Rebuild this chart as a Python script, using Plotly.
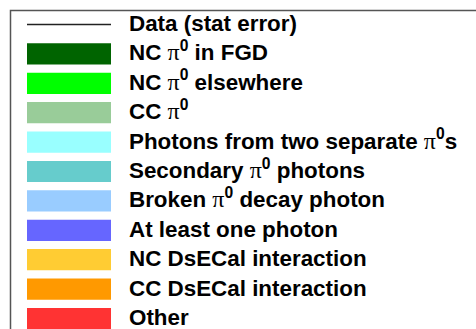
import plotly.graph_objects as go

# Legend entries for the pi0 selection stack
data_label = "Data (stat error)"
PI = ("<span style='font-family:Liberation Serif;font-weight:normal;font-size:24px'>π</span>"
      "<sup>0</sup>")
labels = [
    "NC " + PI + " in FGD",
    "NC " + PI + " elsewhere",
    "CC " + PI,
    "Photons from two separate " + PI + "s",
    "Secondary " + PI + " photons",
    "Broken " + PI + " decay photon",
    "At least one photon",
    "NC DsECal interaction",
    "CC DsECal interaction",
    "Other",
]
colors = [
    "#006400", "#00ff00", "#99cc99", "#99ffff", "#66cccc",
    "#99ccff", "#6666ff", "#ffcc33", "#ff9900", "#ff3333",
]

rows = list(range(1, len(labels) + 1))

fig = go.Figure()

# Data entry: thin black line sample
fig.add_trace(go.Scatter(
    x=[0, 1], y=[0, 0], mode="lines",
    line=dict(color="#222222", width=1.6), hoverinfo="skip",
))

# Filled swatches for each stacked component
fig.add_trace(go.Bar(
    y=rows, x=[1] * len(rows), base=0, orientation="h",
    width=0.72, marker=dict(color=colors, line=dict(width=0)),
    hoverinfo="skip",
))

# Entry labels
fig.add_trace(go.Scatter(
    x=[1.214] * (len(labels) + 1), y=[0.03] + [r + 0.03 for r in rows], mode="text",
    text=["<b>" + t + "</b>" for t in [data_label] + labels],
    textposition="middle right",
    textfont=dict(family="Liberation Sans", size=22.4, color="black"),
    hoverinfo="skip",
))

fig.update_layout(
    width=476, height=329,
    margin=dict(l=0, r=0, t=0, b=0),
    paper_bgcolor="white", plot_bgcolor="white",
    showlegend=False,
    xaxis=dict(range=[-27 / 84, (476 - 27) / 84], visible=False, fixedrange=True),
    yaxis=dict(range=[(329 - 24.5) / 29.4, -24.5 / 29.4], visible=False, fixedrange=True),
    shapes=[dict(
        type="rect", xref="paper", yref="paper",
        x0=10.5 / 476, x1=1.02, y0=-0.02, y1=1 - 10.5 / 329,
        line=dict(color="#555555", width=1.5), fillcolor="rgba(0,0,0,0)",
        layer="below",
    )],
)

fig.write_html("out.html")
